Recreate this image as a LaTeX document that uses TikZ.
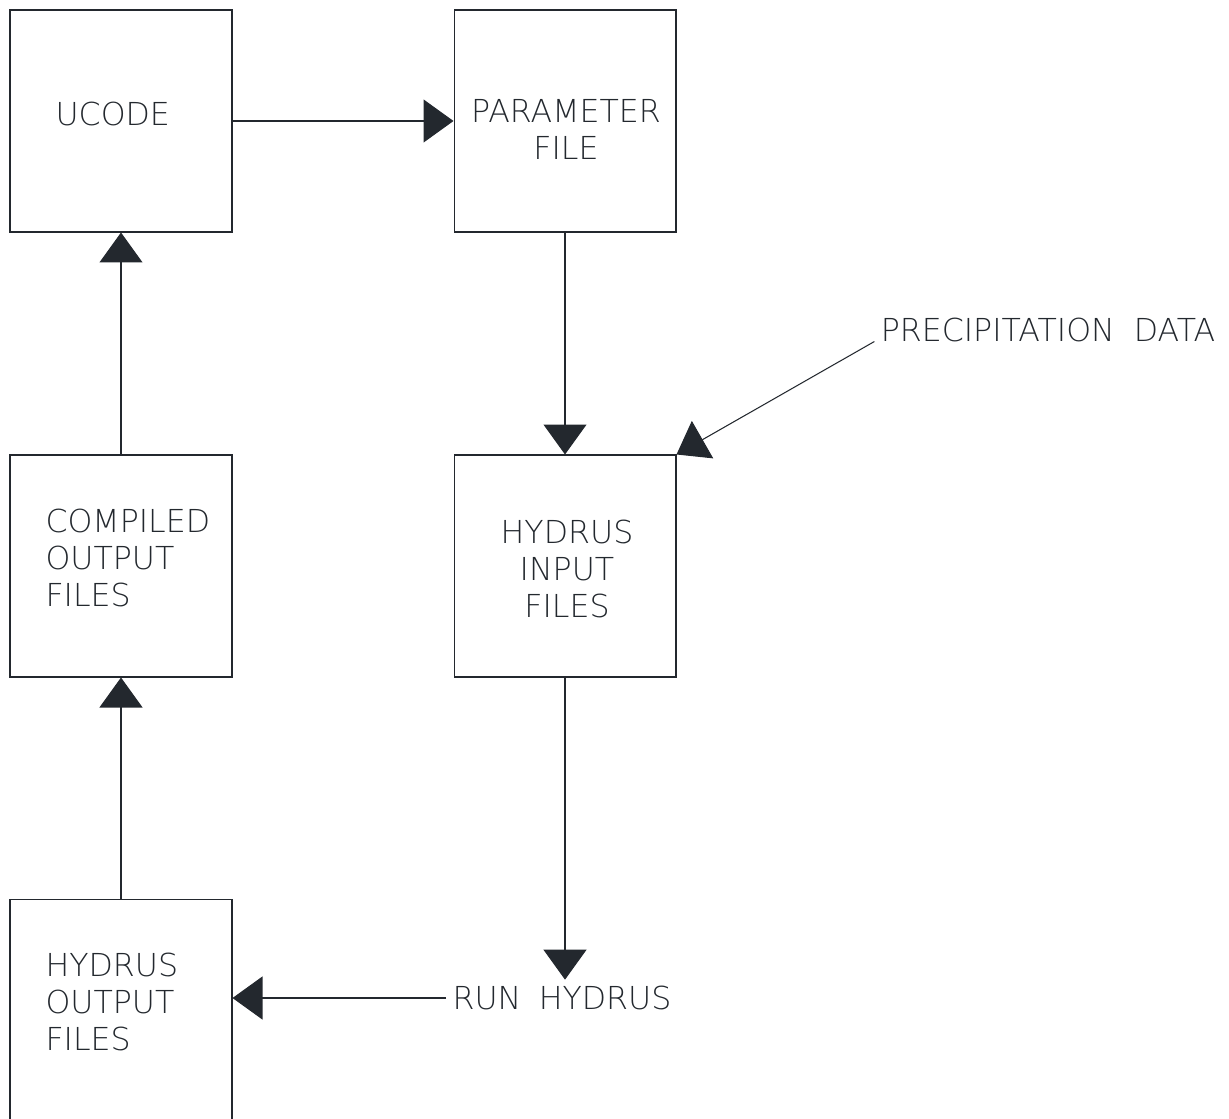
\documentclass[tikz,border=0pt]{standalone}
\usepackage{fontspec}
\setmainfont{DejaVu Sans ExtraLight}
\usetikzlibrary{arrows.meta, positioning}
\definecolor{ink}{HTML}{23282E}

\begin{document}
\begin{tikzpicture}[x=0.02cm, y=-0.02cm,
  >={Triangle[length=0.6cm, width=0.86cm]},
  line width=0.6pt, draw=ink, text=ink,
  font=\fontsize{18}{21}\selectfont,
  box/.style={draw=ink, rectangle, minimum width=4.44cm, minimum height=4.44cm},
  txtl/.style={inner sep=0pt, align=left, anchor=west},
  txtc/.style={inner sep=0pt, align=center}]

% Page
\useasboundingbox (0,0) rectangle (1229,1118);

% --- boxes ---
\node[box] (ucode) at (121,121) {};
\node[box] (param) at (565,121) {};
\node[box] (compiled) at (121,566) {};
\node[box] (hydrin) at (565,566) {};
\node[box] (hydrout) at (121,1010) {};

% --- box texts ---
\node[txtl] (ucodetxt) at (55,114) {UCODE};
\node[txtc] (paramtxt) at (566,129.5) {PARAMETER\\FILE};
\node[txtl] (compiledtxt) at (45,558) {COMPILED\\OUTPUT\\FILES};
\node[txtc] (hydrintxt) at (567,569) {HYDRUS\\INPUT\\FILES};
\node[txtl] (hydrouttxt) at (45,1002) {HYDRUS\\OUTPUT\\FILES};

% --- free labels ---
\node (runhydrus) at (562,998) {RUN\hspace{0.55em}HYDRUS};
\node (precip) at (1048,330) {PRECIPITATION\hspace{0.6em}DATA};

% --- connectors ---
\draw[->] (ucode.east) -- (param.west);
\draw[->] (param.south) -- (hydrin.north);
\draw[->] (precip.base west) -- (hydrin.north east);
\draw[->] (hydrin.south) -- (hydrin.south |- runhydrus.north);
\draw[->] (runhydrus.west) -- (runhydrus.west -| hydrout.east);
\draw[->] (hydrout.north) -- (compiled.south);
\draw[->] (compiled.north) -- (ucode.south);

\end{tikzpicture}
\end{document}
